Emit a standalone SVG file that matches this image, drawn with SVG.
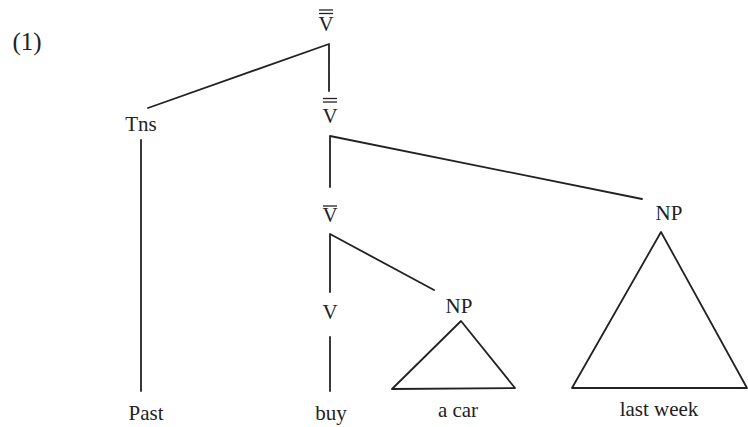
<svg xmlns="http://www.w3.org/2000/svg" width="748" height="427" viewBox="0 0 748 427">
<style>
  text { font-family: "Liberation Serif", "Times New Roman", serif; font-size: 21px; fill: #222; text-anchor: middle; }
  .e { stroke: #222; stroke-width: 1.8; fill: none; stroke-linecap: round; stroke-linejoin: round; }
  .bar { stroke: #222; stroke-width: 1.3; }
</style>
<rect width="748" height="427" fill="#ffffff"/>
<text x="27" y="50" style="font-size:25px">(1)</text>
<g id="vbar2-top">
  <line class="bar" x1="319" y1="10" x2="333" y2="10"/>
  <line class="bar" x1="319" y1="13.5" x2="333" y2="13.5"/>
  <text x="326" y="31">V</text>
</g>
<g id="tns"><text x="141" y="131">Tns</text></g>
<g id="vbar2">
  <line class="bar" x1="323" y1="98.5" x2="337" y2="98.5"/>
  <line class="bar" x1="323" y1="102" x2="337" y2="102"/>
  <text x="330" y="123">V</text>
</g>
<g id="vbar1">
  <line class="bar" x1="323" y1="206" x2="337" y2="206"/>
  <text x="330" y="222">V</text>
</g>
<g id="np-big"><text x="669" y="220">NP</text></g>
<g id="v"><text x="330" y="319">V</text></g>
<g id="np-small"><text x="459" y="313">NP</text></g>
<g id="past"><text x="146" y="420">Past</text></g>
<g id="buy"><text x="331" y="420">buy</text></g>
<g id="acar"><text x="458" y="417">a car</text></g>
<g id="lastweek"><text x="659" y="416">last week</text></g>
<g id="connectors">
  <path class="e" d="M148 108 L329 44 L329 91"/>
  <path class="e" d="M141 140 L141 391"/>
  <path class="e" d="M330 187 L330 136 L642 199"/>
  <path class="e" d="M330 292 L330 234 L434 290"/>
  <path class="e" d="M330 337 L330 391"/>
  <path class="e" d="M461 321 L392 389 L515 388 Z"/>
  <path class="e" d="M661 232 L572 388 L747 388 Z"/>
</g>
</svg>
